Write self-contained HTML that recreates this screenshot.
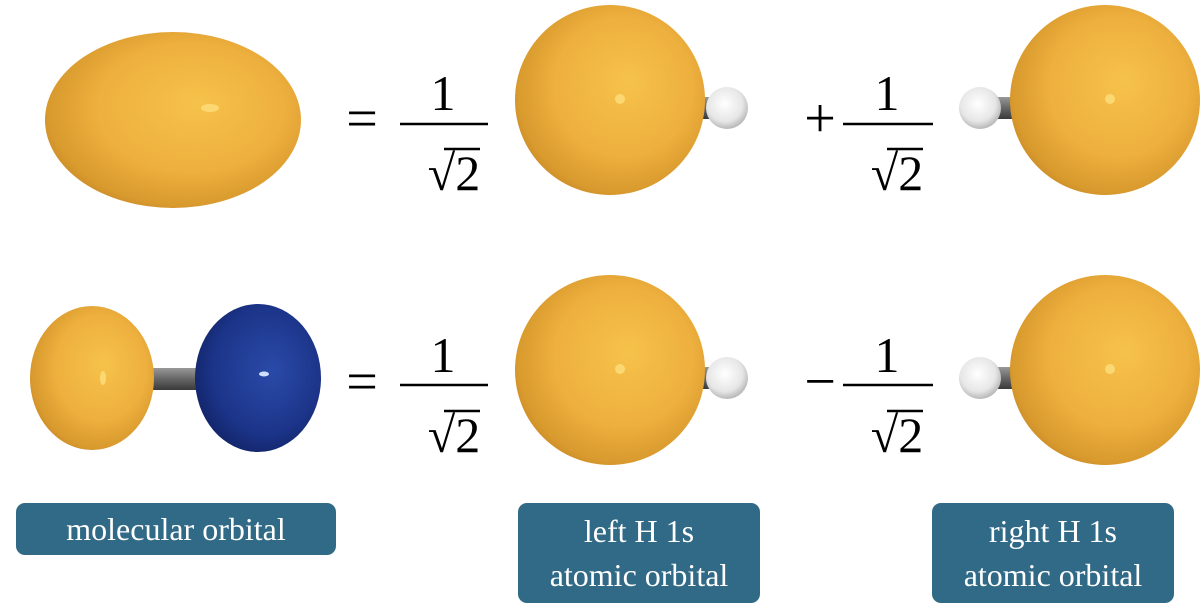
<!DOCTYPE html>
<html><head><meta charset="utf-8"><style>
html,body{margin:0;padding:0;background:#fff;width:1200px;height:616px;overflow:hidden}
svg{display:block}
text{font-family:"Liberation Serif",serif}
</style></head><body>
<svg width="1200" height="616" viewBox="0 0 1200 616">
<defs>
<radialGradient id="og" cx="0.55" cy="0.45" r="0.6" fx="0.6" fy="0.4">
<stop offset="0" stop-color="#f6c24a"/><stop offset="0.6" stop-color="#eeb03e"/><stop offset="0.9" stop-color="#d99a2e"/><stop offset="1" stop-color="#c98a28"/></radialGradient>
<radialGradient id="bg" cx="0.55" cy="0.45" r="0.6" fx="0.62" fy="0.45">
<stop offset="0" stop-color="#2a4aa8"/><stop offset="0.7" stop-color="#1c358a"/><stop offset="1" stop-color="#122468"/></radialGradient>
<radialGradient id="wg" cx="0.45" cy="0.4" r="0.6">
<stop offset="0" stop-color="#ffffff"/><stop offset="0.7" stop-color="#e6e6e6"/><stop offset="1" stop-color="#b8b8b8"/></radialGradient>
<linearGradient id="gg" x1="0" y1="0" x2="0" y2="1"><stop offset="0" stop-color="#999"/><stop offset="0.5" stop-color="#666"/><stop offset="1" stop-color="#3a3a3a"/></linearGradient>
</defs>
<!-- top row -->
<g>
<ellipse cx="173" cy="120" rx="128" ry="88" fill="url(#og)"/>
<ellipse cx="210" cy="108" rx="9" ry="4" fill="#fcd872"/>
</g>
<text x="362" y="137" font-size="56" text-anchor="middle">=</text>
<g>
<text x="443" y="110" font-size="50" text-anchor="middle">1</text>
<line x1="400" y1="124" x2="488" y2="124" stroke="#000" stroke-width="2.5"/>
<text x="454" y="190" font-size="50" text-anchor="middle">√2</text>
<line x1="444" y1="149" x2="480" y2="149" stroke="#000" stroke-width="2.5"/>
</g>
<g>
<rect x="694" y="97" width="18" height="22" fill="url(#gg)"/>
<circle cx="610" cy="100" r="95" fill="url(#og)"/>
<circle cx="620" cy="99" r="5" fill="#fcd872"/>
<circle cx="727" cy="108" r="21" fill="url(#wg)"/>
</g>
<text x="820" y="137" font-size="56" text-anchor="middle">+</text>
<g>
<text x="887" y="110" font-size="50" text-anchor="middle">1</text>
<line x1="843" y1="124" x2="933" y2="124" stroke="#000" stroke-width="2.5"/>
<text x="897" y="190" font-size="50" text-anchor="middle">√2</text>
<line x1="887" y1="149" x2="923" y2="149" stroke="#000" stroke-width="2.5"/>
</g>
<g>
<rect x="996" y="97" width="18" height="22" fill="url(#gg)"/>
<circle cx="1105" cy="100" r="95" fill="url(#og)"/>
<circle cx="1110" cy="99" r="5" fill="#fcd872"/>
<circle cx="980" cy="108" r="21" fill="url(#wg)"/>
</g>
<!-- bottom row -->
<g>
<rect x="148" y="368" width="55" height="22" fill="url(#gg)"/>
<ellipse cx="92" cy="378" rx="62" ry="72" fill="url(#og)"/>
<ellipse cx="103" cy="378" rx="3" ry="7" fill="#fcd872"/>
<ellipse cx="258" cy="378" rx="63" ry="74" fill="url(#bg)"/>
<ellipse cx="264" cy="374" rx="5" ry="2.5" fill="#cfe0ff"/>
</g>
<text x="362" y="400" font-size="56" text-anchor="middle">=</text>
<g>
<text x="443" y="372" font-size="50" text-anchor="middle">1</text>
<line x1="400" y1="385" x2="488" y2="385" stroke="#000" stroke-width="2.5"/>
<text x="454" y="452" font-size="50" text-anchor="middle">√2</text>
<line x1="444" y1="411" x2="480" y2="411" stroke="#000" stroke-width="2.5"/>
</g>
<g>
<rect x="694" y="367" width="18" height="22" fill="url(#gg)"/>
<circle cx="610" cy="370" r="95" fill="url(#og)"/>
<circle cx="620" cy="369" r="5" fill="#fcd872"/>
<circle cx="727" cy="378" r="21" fill="url(#wg)"/>
</g>
<text x="820" y="400" font-size="56" text-anchor="middle">−</text>
<g>
<text x="887" y="372" font-size="50" text-anchor="middle">1</text>
<line x1="843" y1="385" x2="933" y2="385" stroke="#000" stroke-width="2.5"/>
<text x="897" y="452" font-size="50" text-anchor="middle">√2</text>
<line x1="887" y1="411" x2="923" y2="411" stroke="#000" stroke-width="2.5"/>
</g>
<g>
<rect x="996" y="367" width="18" height="22" fill="url(#gg)"/>
<circle cx="1105" cy="370" r="95" fill="url(#og)"/>
<circle cx="1110" cy="369" r="5" fill="#fcd872"/>
<circle cx="980" cy="378" r="21" fill="url(#wg)"/>
</g>
<!-- labels -->
<g>
<rect x="16" y="503" width="320" height="52" rx="9" fill="#316a86"/>
<text x="176" y="540" font-size="32" fill="#fff" text-anchor="middle">molecular orbital</text>
</g>
<g>
<rect x="518" y="503" width="242" height="100" rx="9" fill="#316a86"/>
<text x="639" y="542" font-size="32" fill="#fff" text-anchor="middle">left H 1s</text>
<text x="639" y="586" font-size="32" fill="#fff" text-anchor="middle">atomic orbital</text>
</g>
<g>
<rect x="932" y="503" width="242" height="100" rx="9" fill="#316a86"/>
<text x="1053" y="542" font-size="32" fill="#fff" text-anchor="middle">right H 1s</text>
<text x="1053" y="586" font-size="32" fill="#fff" text-anchor="middle">atomic orbital</text>
</g>
</svg>
</body></html>
